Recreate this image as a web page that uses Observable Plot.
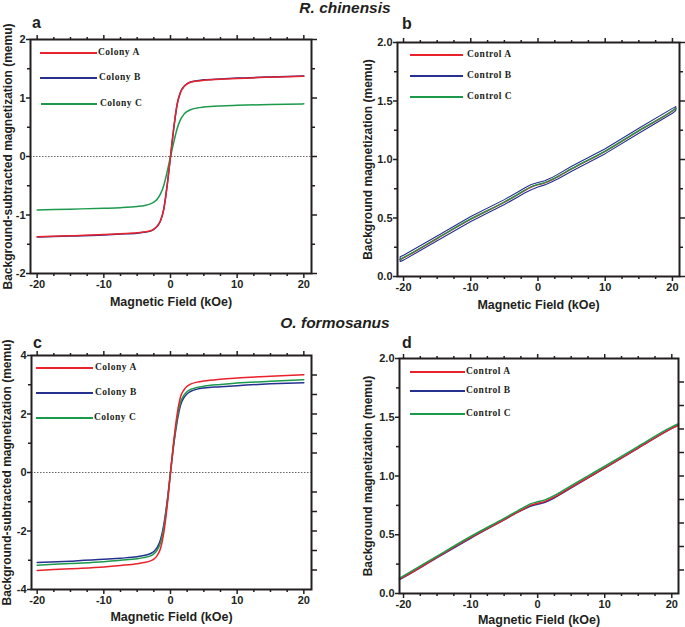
<!DOCTYPE html>
<html><head><meta charset="utf-8">
<script src="https://cdn.jsdelivr.net/npm/d3@7"></script>
<script src="https://cdn.jsdelivr.net/npm/@observablehq/plot@0.6"></script>
<style>
body{margin:0;background:#fff;}
#wrap{position:relative;width:685px;height:627px;overflow:hidden;font-family:"Liberation Sans",Arial,sans-serif;}
.title{position:absolute;font-weight:bold;font-style:italic;font-size:15.5px;color:#231f20;transform:translate(-50%,-50%);white-space:nowrap;line-height:1;}
.letter{position:absolute;font-weight:bold;font-size:16px;color:#231f20;line-height:1;}
.legline{position:absolute;height:2px;}
.legtext{position:absolute;font-family:"Liberation Serif","Times New Roman",serif;font-weight:bold;font-size:9.5px;letter-spacing:0.5px;color:#231f20;white-space:nowrap;line-height:1;transform:translateY(-50%);}
</style></head>
<body><div id="wrap"></div>
<script>
// ---------- data ----------
const fieldColony = [-20,-15,-10,-7.5,-5,-4,-3,-2.5,-2,-1.5,-1,-0.5,0,0.5,1,1.5,2,2.5,3,4,5,7.5,10,15,20];
// R. chinensis colonies (panel a)
const rcColonyA = [-1.37,-1.355,-1.335,-1.32,-1.305,-1.29,-1.27,-1.24,-1.19,-1.10,-0.90,-0.50,0,0.50,0.90,1.10,1.19,1.24,1.27,1.29,1.305,1.32,1.335,1.355,1.37];
const rcColonyB = [-1.375,-1.36,-1.34,-1.325,-1.31,-1.295,-1.275,-1.245,-1.195,-1.10,-0.89,-0.49,0,0.49,0.89,1.10,1.195,1.245,1.275,1.295,1.31,1.325,1.34,1.36,1.375];
const rcColonyC = [-0.915,-0.90,-0.885,-0.875,-0.855,-0.84,-0.81,-0.78,-0.73,-0.64,-0.49,-0.26,0,0.25,0.48,0.63,0.72,0.77,0.80,0.83,0.845,0.865,0.875,0.888,0.90];
// O. formosanus colonies (panel c)
const ofColonyA = [-3.35,-3.29,-3.23,-3.18,-3.12,-3.08,-3.02,-2.96,-2.84,-2.60,-2.05,-1.15,0,1.10,2.00,2.58,2.82,2.95,3.02,3.09,3.13,3.19,3.23,3.29,3.34];
const ofColonyB = [-3.08,-3.03,-2.97,-2.93,-2.88,-2.84,-2.77,-2.70,-2.56,-2.30,-1.78,-0.98,0,0.98,1.75,2.30,2.55,2.69,2.77,2.85,2.89,2.93,2.97,3.03,3.07];
const ofColonyC = [-3.17,-3.11,-3.05,-3.00,-2.95,-2.91,-2.85,-2.78,-2.65,-2.40,-1.88,-1.05,0,1.03,1.85,2.40,2.64,2.77,2.84,2.91,2.95,3.01,3.06,3.12,3.17];
// R. chinensis controls (panel b)
const fieldCtrlB = [-20.5,-20,-15,-10,-5,-3,-2,-1,0,1,2,3,5,10,15,20,20.5];
const rcControlA = [0.145,0.16,0.325,0.49,0.635,0.70,0.735,0.765,0.785,0.80,0.825,0.855,0.92,1.07,1.245,1.415,1.435];
const rcControlBUpper = [0.168,0.182,0.347,0.512,0.657,0.722,0.757,0.787,0.803,0.818,0.843,0.875,0.942,1.092,1.267,1.437,1.452];
const rcControlBLower = [0.128,0.140,0.305,0.470,0.615,0.680,0.713,0.742,0.765,0.783,0.807,0.835,0.900,1.050,1.225,1.395,1.418];
const rcControlC = [0.147,0.162,0.327,0.492,0.637,0.702,0.737,0.767,0.787,0.802,0.827,0.857,0.922,1.072,1.247,1.417,1.437];
// O. formosanus controls (panel d)
const fieldCtrlD = [-20.6,-20,-15,-10,-5,-3,-2,-1,0,1,2,3,5,10,15,20,21];
const ofControlA = [0.125,0.142,0.31,0.475,0.63,0.693,0.723,0.752,0.768,0.782,0.808,0.838,0.905,1.07,1.24,1.405,1.432];
const ofControlB = [0.118,0.137,0.305,0.47,0.627,0.69,0.718,0.745,0.76,0.775,0.80,0.832,0.90,1.067,1.238,1.405,1.435];
const ofControlC = [0.13,0.15,0.318,0.485,0.64,0.703,0.735,0.765,0.78,0.795,0.82,0.85,0.918,1.083,1.253,1.418,1.445];

const colonyNames = ["Colony A","Colony B","Colony C"];
const controlNames = ["Control A","Control B","Control C"];
const xLabel = "Magnetic Field (kOe)";
const yLabelColony = "Background-subtracted magnetization (memu)";
const yLabelControl = "Background magnetization (memu)";
const titles = ["R. chinensis","O. formosanus"];
const xMajor = [-20,-10,0,10,20];
const xMinor = [-17.5,-15,-12.5,-7.5,-5,-2.5,2.5,5,7.5,12.5,15,17.5];

// ---------- style ----------
const INK = "#231f20";
const RED = "#e8212b", BLUE = "#26318f", GREEN = "#1b9a4b";
const wrap = document.getElementById("wrap");

const rows = (xs, ys) => xs.map((x, i) => ({x, y: ys[i]}));

function panel(o) {
  const tk = {strokeWidth: 1.5, stroke: INK, label: null};
  const fig = Plot.plot({
    width: o.w, height: o.h,
    marginLeft: o.ml, marginRight: o.mr, marginTop: o.mt, marginBottom: o.mb,
    x: {domain: o.xd},
    y: {domain: o.yd},
    style: {fontFamily: '"Liberation Sans", Arial, sans-serif', fontSize: "11px", fontWeight: "bold", color: INK, background: "transparent", overflow: "visible"},
    marks: [
      ...o.marks,
      Plot.axisX({...tk, ticks: xMajor, tickSize: 5, tickPadding: 2, tickFormat: d => String(d)}),
      Plot.axisX({...tk, ticks: xMinor, tickSize: 3, tickFormat: () => ""}),
      Plot.axisX({...tk, anchor: "top", ticks: xMajor, tickSize: 5, tickFormat: () => ""}),
      Plot.axisX({...tk, anchor: "top", ticks: xMinor, tickSize: 3, tickFormat: () => ""}),
      Plot.axisY({...tk, ticks: o.yMajor, tickSize: 4, tickPadding: 1, tickFormat: o.yFmt}),
      Plot.axisY({...tk, ticks: o.yMinor, tickSize: 3, tickFormat: () => ""}),
      Plot.axisY({...tk, anchor: "right", ticks: o.rMajor, tickSize: 5, tickFormat: () => ""}),
      Plot.axisY({...tk, anchor: "right", ticks: o.rMinor, tickSize: 3, tickFormat: () => ""}),
      Plot.frame({stroke: INK, strokeWidth: 2}),
      Plot.text([xLabel], {text: d => d, frameAnchor: "bottom", textAnchor: "middle", lineAnchor: "middle", dy: o.xdy, fontSize: 12.5, fontWeight: "bold", fill: INK}),
      Plot.text([o.yLabel], {text: d => d, frameAnchor: "left", textAnchor: "middle", lineAnchor: "middle", dx: o.ydx, rotate: -90, fontSize: 12, fontWeight: "bold", fill: INK})
    ]
  });
  fig.style.position = "absolute";
  fig.style.left = o.left + "px";
  fig.style.top = o.top + "px";
  wrap.appendChild(fig);
}

const ln = (data, color, w = 1.5) => Plot.line(data, {x: "x", y: "y", stroke: color, strokeWidth: w, curve: "monotone-x"});
const fmt1 = d3.format(".1f");

// panel a
panel({left: 0, top: 0, w: 340, h: 310, ml: 30, mr: 29, mt: 39, mb: 37,
  xd: [-21.0, 21.15], yd: [-2, 2],
  yMajor: [-2,-1,0,1,2], yMinor: [-1.5,-0.5,0.5,1.5], yFmt: d => String(d),
  rMajor: [-2,-1,0,1,2], rMinor: [-1.5,-0.5,0.5,1.5],
  yLabel: yLabelColony, ydx: -22, xdy: 28,
  marks: [
    Plot.ruleY([0], {stroke: "#666", strokeWidth: 1, strokeDasharray: "1.5,1.5"}),
    ln(rows(fieldColony, rcColonyB), BLUE),
    ln(rows(fieldColony, rcColonyC), GREEN),
    ln(rows(fieldColony, rcColonyA), RED)
  ]});

// panel b
const loopB = [
  ...fieldCtrlB.map((x, i) => ({x, y: rcControlBUpper[i]})).reverse(),
  ...fieldCtrlB.map((x, i) => ({x, y: rcControlBLower[i]}))
];
loopB.push(loopB[0]);
panel({left: 340, top: 0, w: 345, h: 310, ml: 57, mr: 6, mt: 42, mb: 34,
  xd: [-20.9, 21.05], yd: [0, 2],
  yMajor: [0,0.5,1,1.5,2], yMinor: [0.25,0.75,1.25,1.75], yFmt: fmt1,
  rMajor: [0,0.5,1,1.5,2], rMinor: [0.25,0.75,1.25,1.75],
  yLabel: yLabelControl, ydx: -29, xdy: 28,
  marks: [
    ln(rows(fieldCtrlB, rcControlA), RED),
    Plot.line(loopB, {x: "x", y: "y", stroke: BLUE, strokeWidth: 1.1}),
    ln(rows(fieldCtrlB, rcControlC), GREEN, 1.3)
  ]});

// panel c
panel({left: 0, top: 310, w: 340, h: 317, ml: 31, mr: 29, mt: 45, mb: 38,
  xd: [-20.85, 21.15], yd: [-4, 4],
  yMajor: [-4,-2,0,2,4], yMinor: [-3,-1,1,3], yFmt: d => String(d),
  rMajor: [-3.333,-2.667,-2,-1.333,-0.667,0.667,1.333,2,2.667,3.333], rMinor: [],
  yLabel: yLabelColony, ydx: -24, xdy: 27,
  marks: [
    Plot.ruleY([0], {stroke: "#666", strokeWidth: 1, strokeDasharray: "1.5,1.5"}),
    ln(rows(fieldColony, ofColonyB), BLUE),
    ln(rows(fieldColony, ofColonyC), GREEN),
    ln(rows(fieldColony, ofColonyA), RED)
  ]});

// panel d
panel({left: 340, top: 310, w: 345, h: 317, ml: 59, mr: 7, mt: 48, mb: 34,
  xd: [-20.6, 21.0], yd: [0, 2],
  yMajor: [0,0.5,1,1.5,2], yMinor: [0.25,0.75,1.25,1.75], yFmt: fmt1,
  rMajor: [0.2,0.4,0.6,0.8,1.0,1.2,1.4,1.6,1.8], rMinor: [],
  yLabel: yLabelControl, ydx: -31, xdy: 26,
  marks: [
    ln(rows(fieldCtrlD, ofControlB), BLUE),
    ln(rows(fieldCtrlD, ofControlA), RED),
    ln(rows(fieldCtrlD, ofControlC), GREEN)
  ]});

// ---------- titles, letters, legends ----------
function addDiv(cls, text, left, top, extra) {
  const d = document.createElement("div");
  d.className = cls;
  if (text) d.textContent = text;
  d.style.left = left + "px";
  d.style.top = top + "px";
  if (extra) Object.assign(d.style, extra);
  wrap.appendChild(d);
  return d;
}
addDiv("title", titles[0], 345, 8);
addDiv("title", titles[1], 335, 323);
addDiv("letter", "a", 32, 15);
addDiv("letter", "b", 402, 16);
addDiv("letter", "c", 33, 335);
addDiv("letter", "d", 402, 335);

const colors = [RED, BLUE, GREEN];
function legend(names, x1, x2, ys, tx) {
  names.forEach((n, i) => {
    addDiv("legline", null, x1[i], ys[i] - 1, {width: (x2 - x1[i]) + "px", background: colors[i]});
    addDiv("legtext", n, tx[i], ys[i]);
  });
}
legend(colonyNames, [40,40,41], 97, [52.5,78,104], [98,99,100]);
legend(controlNames, [410,410,410], 463, [55,75.5,97], [467,467,467]);
legend(colonyNames, [36,36,36], 93, [367.5,392.5,418], [95,95,94]);
legend(controlNames, [410,410,410], 465, [372,391,413.5], [466,466,466]);
</script></body></html>
